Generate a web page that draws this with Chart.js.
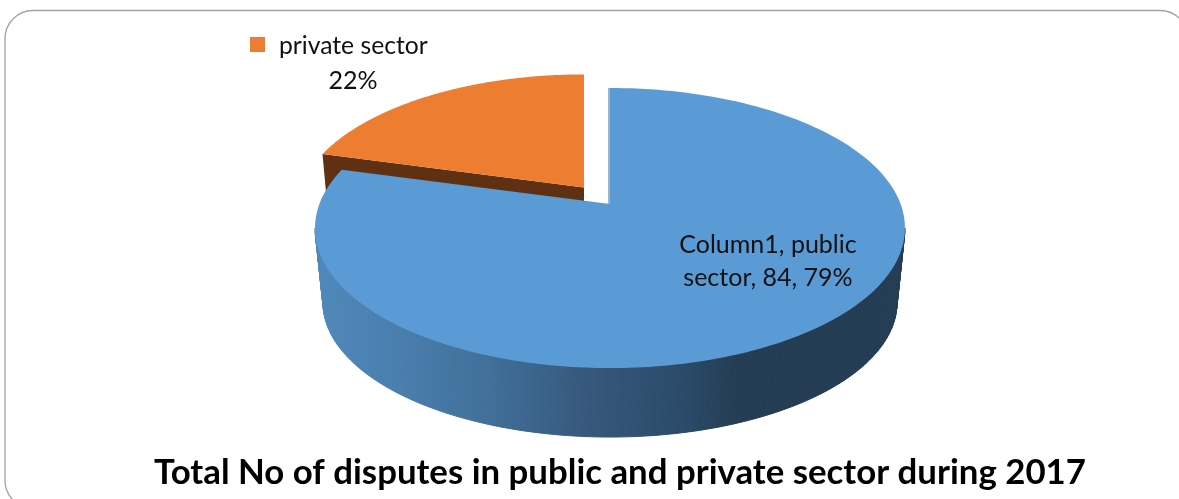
<!DOCTYPE html>
<html>
<head>
<meta charset="utf-8">
<title>Disputes 2017</title>
<script src="https://cdn.jsdelivr.net/npm/chart.js@4"></script>
<style>
  html, body { margin: 0; padding: 0; background: #fff; }
  canvas { display: block; }
</style>
</head>
<body>
<canvas id="myChart" width="1179" height="499"></canvas>
<script>
var seriesName = 'Column1';
var categories = ['public sector', 'private sector'];
var values = [84, 22];
var percentLabels = ['79%', '22%'];
var titleText = 'Total No of disputes in public and private sector during 2017';

var topColors = ['#5b9bd5', '#ed7d31'];
var FONT = 'Lato, "Open Sans", sans-serif';

// perspective of the pie disc: far side shrinks by k
var view = { cx: 610, cy: 204, rx: 290.6, ry: 135.9, k: 0.1714 };
// bottom rim of the extruded disc
var base = { cyShift: 75.6, sx: 0.973, sy: 0.96 };
// each slice can be pulled out of the pie and sits a bit further away
var explode = [
    { dx: 0, dy: 0, scale: 1 },
    { dx: -26, dy: -16.5, scale: 0.975 }
];

function project(theta, r, slice, bottom) {
    var u = Math.sin(theta) * r, v = Math.cos(theta) * r;
    var w = 1 + view.k * v;
    var sx = slice.scale * (bottom ? base.sx : 1);
    var sy = slice.scale * (bottom ? base.sy : 1);
    return {
        x: view.cx + slice.dx + sx * view.rx * u / w,
        y: view.cy + slice.dy + (bottom ? base.cyShift : 0) - sy * view.ry * v / w
    };
}

function tracePoly(ctx, pts) {
    ctx.beginPath();
    pts.forEach(function (p, i) {
        if (i === 0) ctx.moveTo(p.x, p.y); else ctx.lineTo(p.x, p.y);
    });
    ctx.closePath();
}

function drawTop(ctx, a, b, slice, color) {
    var pts = [project(0, 0, slice, false)];
    for (var i = 0; i <= 180; i++) {
        pts.push(project(a + (b - a) * i / 180, 1, slice, false));
    }
    tracePoly(ctx, pts);
    ctx.fillStyle = color;
    ctx.fill();
}

function drawRim(ctx, a, b, slice, paint) {
    ctx.fillStyle = paint;
    ctx.strokeStyle = paint;
    ctx.lineWidth = 1;
    for (var i = 0; i < 120; i++) {
        var t0 = a + (b - a) * i / 120, t1 = a + (b - a) * (i + 1) / 120;
        tracePoly(ctx, [
            project(t0, 1, slice, false), project(t1, 1, slice, false),
            project(t1, 1, slice, true), project(t0, 1, slice, true)
        ]);
        ctx.fill();
        ctx.stroke();
    }
}

// the pie is painted from the arc elements the controller computed
var pie3d = {
    id: 'pie3d',
    beforeDraw: function (chart) {
        var ctx = chart.ctx;
        ctx.save();
        ctx.fillStyle = '#fff';
        ctx.fillRect(0, 0, chart.width, chart.height);
        ctx.beginPath();
        ctx.roundRect(5, 10.5, 1183, 498, 28);
        ctx.strokeStyle = '#a3a3a3';
        ctx.lineWidth = 1.3;
        ctx.stroke();
        ctx.restore();
    },
    beforeDatasetsDraw: function (chart) {
        var ctx = chart.ctx;
        var arcs = chart.getDatasetMeta(0).data;
        var blue = arcs[0], orange = arcs[1];
        var a0 = blue.startAngle + Math.PI / 2, a1 = blue.endAngle + Math.PI / 2;
        var o0 = orange.startAngle + Math.PI / 2, o1 = orange.endAngle + Math.PI / 2;

        ctx.save();

        // orange slice first, the cut face shows above the blue one
        var s = explode[1];
        tracePoly(ctx, [
            project(0, 0, s, false), project(o0, 1, s, false),
            project(o0, 1, s, true), project(0, 0, s, true)
        ]);
        ctx.fillStyle = '#5f3012';
        ctx.fill();
        drawTop(ctx, o0, o1, s, orange.options.backgroundColor);

        // blue slice: only the front of the wall is visible
        s = explode[0];
        var wall = ctx.createLinearGradient(316, 0, 905, 0);
        wall.addColorStop(0, '#5088bb');
        wall.addColorStop(0.12, '#4a80b0');
        wall.addColorStop(0.29, '#41709a');
        wall.addColorStop(0.46, '#36587c');
        wall.addColorStop(0.63, '#2a4a68');
        wall.addColorStop(0.715, '#243d54');
        wall.addColorStop(1, '#243d54');
        var front = Math.acos(-view.k);
        drawRim(ctx, Math.max(a0, front), Math.min(a1, 2 * Math.PI - front), s, wall);
        drawTop(ctx, a0, a1, s, blue.options.backgroundColor);

        // thin dark edge on the cut at 12 o'clock
        var p0 = project(0, 0, s, false), p1 = project(a0, 1, s, false);
        ctx.beginPath();
        ctx.moveTo(p0.x - 1, p0.y);
        ctx.lineTo(p1.x - 1, p1.y);
        ctx.strokeStyle = '#3f6d96';
        ctx.lineWidth = 1;
        ctx.stroke();

        ctx.restore();
        return false;
    },
    afterDraw: function (chart) {
        var ctx = chart.ctx;
        ctx.save();
        ctx.fillStyle = '#111';
        ctx.font = '25px ' + FONT;
        ctx.textAlign = 'center';
        ctx.textBaseline = 'alphabetic';

        // data label on the public slice
        ctx.fillText(seriesName + ', ' + categories[0].split(' ')[0], 768, 253);
        ctx.fillText(categories[0].split(' ')[1] + ', ' + values[0] + ', ' + percentLabels[0], 768, 286);

        // legend-style label for the private slice
        ctx.fillText(percentLabels[1], 353, 89);
        ctx.textAlign = 'left';
        ctx.font = '24.7px ' + FONT;
        ctx.fillText(categories[1], 279, 54);
        ctx.fillStyle = topColors[1];
        ctx.fillRect(250, 37, 15, 15);
        ctx.restore();
    }
};

var ctx = document.getElementById('myChart').getContext('2d');
var chart = new Chart(ctx, {
    type: 'pie',
    data: {
        labels: categories,
        datasets: [{
            label: seriesName,
            data: values,
            backgroundColor: topColors,
            borderWidth: 0
        }]
    },
    options: {
        responsive: false,
        animation: false,
        layout: { padding: { left: 61 } },
        plugins: {
            legend: { display: false },
            tooltip: { enabled: false },
            title: {
                display: true,
                text: titleText,
                position: 'bottom',
                color: '#000',
                font: { family: FONT, size: 34.8, weight: 'bold' },
                padding: { top: 0, bottom: 5 }
            }
        }
    },
    plugins: [pie3d]
});
</script>
</body>
</html>
